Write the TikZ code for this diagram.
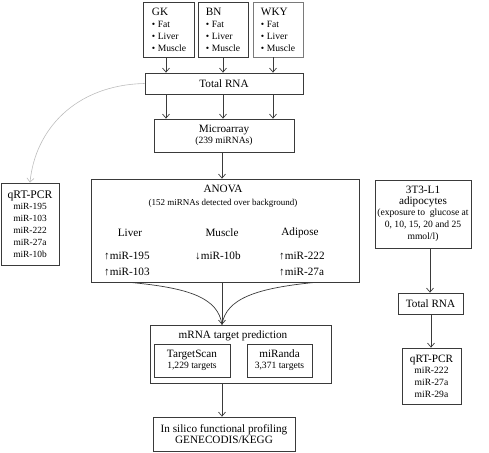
\documentclass[tikz,border=0pt]{standalone}
\usepackage{fontspec}
\setmainfont{Liberation Serif}
\usetikzlibrary{arrows.meta}
\definecolor{edge}{HTML}{3A3A3A}
\definecolor{lightedge}{HTML}{7A7A7A}
\definecolor{curvegray}{HTML}{BDBDBD}
\newcommand{\bigt}{\fontsize{11.2}{13}\selectfont}
\newcommand{\smallt}{\fontsize{9.6}{11.5}\selectfont}
\tikzset{
  box/.style={draw=edge, line width=0.8pt, inner sep=0pt, align=center, text=black},
  txt/.style={inner sep=0pt, text=black},
  arr/.style={draw=edge, line width=0.7pt, -{Straight Barb[length=4pt,width=7pt]}},
  ln/.style={draw=edge, line width=0.7pt},
}
\begin{document}
\begin{tikzpicture}[x=1pt,y=-1pt]
\useasboundingbox (0,0) rectangle (489,452);
% top strain boxes
\node[box, minimum width=51, minimum height=55, align=left] (gk) at (169,29.5)
  {\bigt GK\\[0pt]\smallt • Fat\\ \smallt • Liver\\ \smallt • Muscle};
\node[box, minimum width=50, minimum height=55, align=left] (bn) at (223,29.5)
  {\bigt BN\\[0pt]\smallt • Fat\\ \smallt • Liver\\ \smallt • Muscle};
\node[box, draw=lightedge, minimum width=50, minimum height=55, align=left] (wky) at (278,29.5)
  {\bigt WKY\\[0pt]\smallt • Fat\\ \smallt • Liver\\ \smallt • Muscle};
% total RNA
\node[box, minimum width=158, minimum height=21] (trna) at (224,83.5) {\bigt Total RNA};
\node[box, minimum width=140, minimum height=33] (micro) at (224,135.5)
  {\bigt Microarray\\[-1pt]\smallt (239 miRNAs)};
% arrows top
\coordinate (x1) at (166,0);
\coordinate (x2) at (223,0);
\coordinate (x3) at (273,0);
\draw[arr] (gk.south -| x1) -- (trna.north -| x1);
\draw[arr] (bn.south -| x2) -- (trna.north -| x2);
\draw[arr] (wky.south -| x3) -- (trna.north -| x3);
\draw[arr] (trna.south -| x1) -- (micro.north -| x1);
\draw[arr] (trna.south -| x2) -- (micro.north -| x2);
\draw[arr] (trna.south -| x3) -- (micro.north -| x3);
% ANOVA box
\node[box, minimum width=268, minimum height=103] (anova) at (225,230.5) {};
\node[txt] (anovat) at (223,189) {\bigt ANOVA};
\node[txt] (anovas) at (223,203) {\fontsize{9}{11}\selectfont (152 miRNAs detected over background)};
\node[txt] (liver) at (130,233) {\bigt Liver};
\node[txt] (muscle) at (222,233) {\bigt Muscle};
\node[txt] (adipose) at (300,233) {\bigt Adipose};
\node[txt, anchor=west] (l1) at (104,256) {\bigt ↑miR-195};
\node[txt, anchor=west] (l2) at (104,272) {\bigt ↑miR-103};
\node[txt, anchor=west] (m1) at (195,256) {\bigt ↓miR-10b};
\node[txt, anchor=west] (a1) at (279,256) {\bigt ↑miR-222};
\node[txt, anchor=west] (a2) at (279,272) {\bigt ↑miR-27a};
\coordinate (x4) at (222,0);
\draw[arr] (micro.south -| x4) -- (anova.north -| x4);
% mRNA target prediction
\node[box, minimum width=181, minimum height=58] (mrna) at (240.5,354) {};
\node[txt] (mrnat) at (233,336) {\bigt mRNA target prediction};
\node[box, minimum width=76, minimum height=33] (ts) at (192,360.5)
  {\bigt TargetScan\\[-1pt]\smallt 1,229 targets};
\node[box, minimum width=65, minimum height=33] (mir) at (279.5,360.5)
  {\bigt miRanda\\[-1pt]\smallt 3,371 targets};
% converging curves
\coordinate (cl) at (130,0);
\coordinate (cr) at (315,0);
\draw[ln] (anova.south -| cl) .. controls (190,288) and (218,298) .. (mrna.north -| x4);
\draw[ln] (anova.south -| cr) .. controls (258,288) and (226,298) .. (mrna.north -| x4);
\draw[arr] (anova.south -| x4) -- (mrna.north -| x4);
% in silico
\node[box, minimum width=142, minimum height=34] (insil) at (224,434)
  {\bigt In silico functional profiling\\[-1pt]\bigt GENECODIS/KEGG};
\draw[arr] (mrna.south -| x4) -- (insil.north -| x4);
% left qRT-PCR
\node[box, minimum width=58, minimum height=82] (q1) at (30,224)
  {\fontsize{11.6}{13}\selectfont qRT-PCR\\[-1pt]\fontsize{9.4}{12.4}\selectfont miR-195\\ \fontsize{9.4}{12.4}\selectfont miR-103\\ \fontsize{9.4}{12.4}\selectfont miR-222\\ \fontsize{9.4}{12.4}\selectfont miR-27a\\ \fontsize{9.4}{12.4}\selectfont miR-10b};
\draw[draw=curvegray, line width=0.6pt, -{Straight Barb[length=4pt,width=7pt]}]
  (trna.west) .. controls (75,85) and (35,130) .. (q1.north -| 30,0);
% right column
\node[box, minimum width=96, minimum height=68] (t3) at (423,214)
  {\bigt 3T3-L1\\[-1pt]\bigt adipocytes\\[-1pt]\smallt (exposure to\ \ glucose at\\ \smallt 0, 10, 15, 20 and 25\\ \smallt mmol/l)};
\node[box, minimum width=65, minimum height=21] (trna2) at (430.5,303.5) {\bigt Total RNA};
\node[box, minimum width=59, minimum height=56] (q2) at (431.5,376)
  {\bigt qRT-PCR\\[-1pt]\smallt miR-222\\ \smallt miR-27a\\ \smallt miR-29a};
\coordinate (x5) at (430,0);
\coordinate (x6) at (431,0);
\draw[arr] (t3.south -| x5) -- (trna2.north -| x5);
\draw[arr] (trna2.south -| x6) -- (q2.north -| x6);
\end{tikzpicture}
\end{document}
